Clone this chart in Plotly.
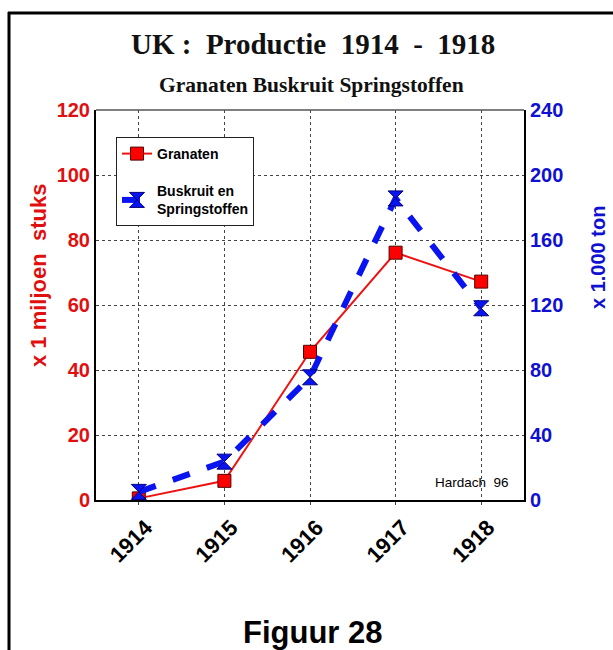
import plotly.graph_objects as go

years = ["1914", "1915", "1916", "1917", "1918"]
granaten = [0.5, 5.9, 45.6, 76.1, 67.2]          # x 1 miljoen stuks (left axis)
buskruit = [5.0, 23.6, 75.5, 185.6, 118.0]       # x 1.000 ton (right axis)
left_ticks = [0, 20, 40, 60, 80, 100, 120]
right_ticks = [0, 40, 80, 120, 160, 200, 240]

W, H = 613, 650
L, R, T, B = 96, 524, 110, 500

def px(x):
    return (x - L) / (R - L)

def py(y):
    return (B - y) / (B - T)

fig = go.Figure()
fig.add_trace(go.Scatter(
    x=list(range(len(years))), y=granaten, name="Granaten", mode="lines+markers",
    legendgroup="g1",
    line=dict(color="#ee1111", width=2),
    marker=dict(symbol="square", size=13, color="#ff0000", line=dict(color="#550000", width=1)),
    yaxis="y"))
fig.add_trace(go.Scatter(
    x=list(range(len(years))), y=buskruit, name="Buskruit en<br>Springstoffen", mode="lines+markers",
    legendgroup="g2",
    line=dict(color="#0a14f0", width=6, dash="dash"),
    marker=dict(symbol="hourglass", size=15, color="#0a14f0", line=dict(color="#000080", width=1)),
    yaxis="y2"))

tickfont = dict(family="Arial, Liberation Sans", size=20)
fig.update_layout(
    width=W, height=H,
    margin=dict(l=L, r=W - R, t=T, b=H - B),
    paper_bgcolor="white", plot_bgcolor="white",
    showlegend=True,
    legend=dict(x=px(116), y=py(137), xanchor="left", yanchor="top",
                bordercolor="#222", borderwidth=1, bgcolor="white",
                font=dict(family="Arial, Liberation Sans", size=14, color="black", weight="bold"),
                tracegroupgap=16, itemwidth=30),
    xaxis=dict(range=[-0.5, 4.5], tickmode="array", tickvals=list(range(len(years))), ticktext=years,
               tickangle=-45, tickfont=dict(family="Arial, Liberation Sans", size=22, color="black", weight="bold"),
               ticklabelshift=7, ticklabelstandoff=1,
               showgrid=True, gridcolor="#444", griddash="dot", gridwidth=1,
               showline=True, linecolor="black", linewidth=2, mirror=False,
               ticks="outside", ticklen=3, tickcolor="#444", zeroline=False),
    yaxis=dict(range=[0, 120], tickmode="array", tickvals=left_ticks,
               tickfont=dict(tickfont, color="#e01010", weight="bold"),
               showgrid=True, gridcolor="#444", griddash="dot", gridwidth=1,
               showline=True, linecolor="black", linewidth=2, zeroline=False, ticks=""),
    yaxis2=dict(range=[0, 240], tickmode="array", tickvals=right_ticks, overlaying="y", side="right",
                tickfont=dict(tickfont, color="#1010d0", weight="bold"),
                showgrid=False, showline=True, linecolor="black", linewidth=2, zeroline=False, ticks=""),
)

# top border of the plot frame
fig.add_shape(type="line", xref="paper", yref="paper", x0=0, x1=1, y0=1, y1=1,
              line=dict(color="#555", width=1.5))
# outer figure frame (left and top)
fig.add_shape(type="line", xref="paper", yref="paper", x0=px(9), x1=px(9), y0=py(12), y1=py(652),
              line=dict(color="black", width=3))
fig.add_shape(type="line", xref="paper", yref="paper", x0=px(8), x1=px(615), y0=py(13), y1=py(13),
              line=dict(color="black", width=3))

ann = [
    dict(text="UK :  Productie  1914  -  1918", x=px(313), y=py(44),
         font=dict(family="Liberation Serif, Times New Roman", size=29, color="#111", weight="bold")),
    dict(text="Granaten Buskruit Springstoffen", x=px(311), y=py(85),
         font=dict(family="Liberation Serif, Times New Roman", size=21.5, color="#111", weight="bold")),
    dict(text="x 1 miljoen  stuks", x=px(38), y=py(276), textangle=-90,
         font=dict(family="Arial, Liberation Sans", size=22, color="#e01010", weight="bold")),
    dict(text="x 1.000 ton", x=px(598), y=py(258), textangle=-90,
         font=dict(family="Arial, Liberation Sans", size=20, color="#1010d0", weight="bold")),
    dict(text="Hardach  96", x=px(471.5), y=py(482),
         font=dict(family="Arial, Liberation Sans", size=13.5, color="black")),
    dict(text="Figuur 28", x=px(313), y=py(632),
         font=dict(family="Arial, Liberation Sans", size=31, color="black", weight="bold")),
]
for a in ann:
    fig.add_annotation(xref="paper", yref="paper", showarrow=False,
                       xanchor="center", yanchor="middle", **a)

fig.write_html("out.html", config={"displayModeBar": False},
               post_script="document.body.style.margin='0px';document.body.style.overflow='hidden';")
